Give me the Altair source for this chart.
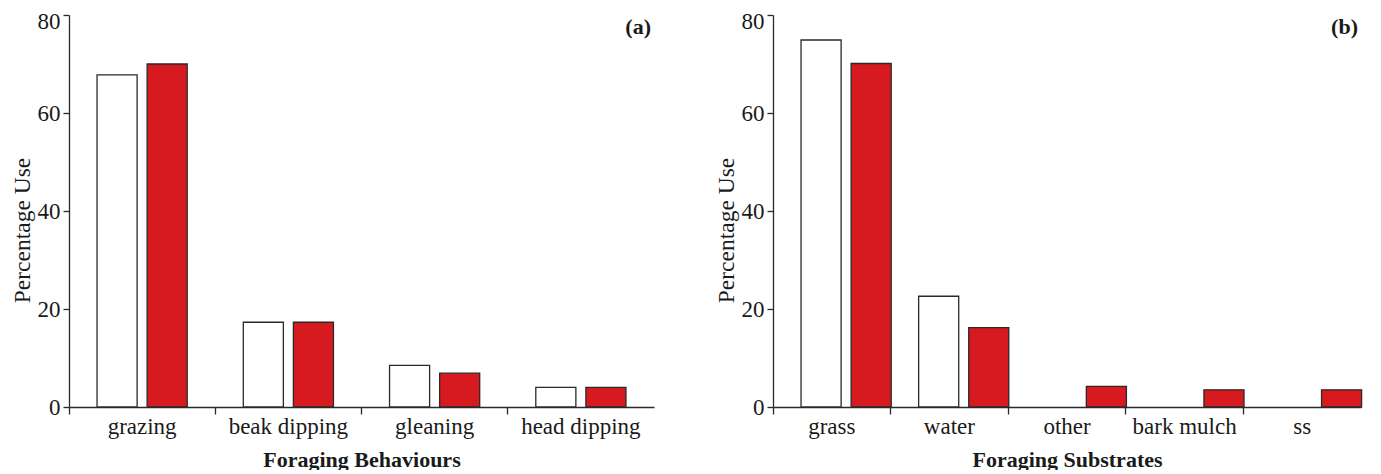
import altair as alt
import pandas as pd

behaviours = ["grazing", "beak dipping", "gleaning", "head dipping"]
beh_white = [67.8, 17.3, 8.5, 4.0]
beh_red = [70.0, 17.3, 6.9, 4.0]

substrates = ["grass", "water", "other", "bark mulch", "ss"]
sub_white = [74.9, 22.6, 0.0, 0.0, 0.0]
sub_red = [70.1, 16.2, 4.2, 3.5, 3.5]

groups = ["Group 1", "Group 2"]
colors = ["#ffffff", "#d71920"]
y_ticks = [0, 20, 40, 60, 80]

FONT = "Liberation Serif"


def panel(cats, white, red, title, tag, width, pad_outer):
    df = pd.DataFrame({
        "cat": cats * 2,
        "group": [groups[0]] * len(cats) + [groups[1]] * len(cats),
        "value": white + red,
    })
    bars = alt.Chart(df).transform_filter("datum.value > 0").mark_bar(
        stroke="#2a2a2a", strokeWidth=1.3
    ).encode(
        x=alt.X("cat:N", sort=cats, title=title,
                scale=alt.Scale(domain=cats, paddingInner=0, paddingOuter=0),
                axis=alt.Axis(bandPosition=0, labelAngle=0, tickSize=7,
                              labelPadding=1, titlePadding=11,
                              labelFontSize=23, titleFontSize=22,
                              titleFontWeight="bold")),
        xOffset=alt.XOffset("group:N", sort=groups,
                            scale=alt.Scale(domain=groups, paddingInner=0.2, paddingOuter=pad_outer)),
        y=alt.Y("value:Q", scale=alt.Scale(domain=[0, 80]),
                axis=alt.Axis(values=y_ticks, title="Percentage Use", tickSize=6,
                              labelPadding=3, titlePadding=3,
                              labelFontSize=23, titleFontSize=23.5,
                              labelOffset={"condition": {"test": "datum.value === 80", "value": 6}, "value": 0},
                              titleY=215,
                              titleFontWeight="normal")),
        color=alt.Color("group:N", scale=alt.Scale(domain=groups, range=colors), legend=None),
    )
    tag_text = alt.Chart(pd.DataFrame({"t": [tag]})).mark_text(
        font=FONT, fontSize=22, fontWeight="bold", align="right", baseline="middle", color="#1a1a1a"
    ).encode(text="t:N", x=alt.value(width - 3), y=alt.value(12))
    return alt.layer(bars, tag_text).properties(width=width, height=392)


left = panel(behaviours, beh_white, beh_red, "Foraging Behaviours", "(a)", 585, 0.56)
right = panel(substrates, sub_white, sub_red, "Foraging Substrates", "(b)", 588, 0.276)

chart = alt.hconcat(left, right, spacing=60).configure_view(stroke=None).configure_axis(
    labelFont=FONT, titleFont=FONT,
    labelColor="#1a1a1a", titleColor="#1a1a1a",
    domainColor="#2a2a2a", tickColor="#2a2a2a", domainWidth=1.3, tickWidth=1.3,
    grid=False,
).properties(padding={"left": 2, "top": 2, "right": 0, "bottom": 0})

chart.save("out.html", embed_options={"renderer": "svg", "actions": False})
